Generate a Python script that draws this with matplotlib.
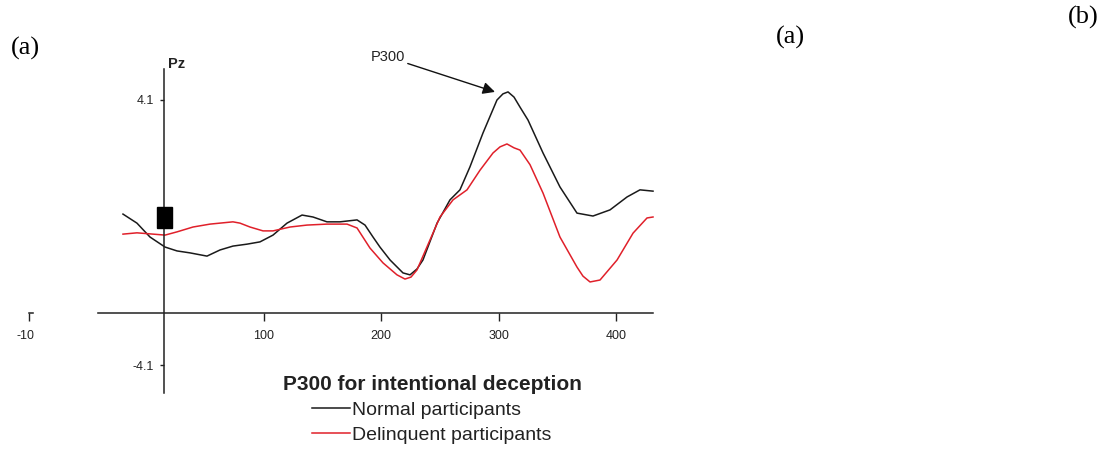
import numpy as np
import matplotlib
matplotlib.use('Agg')
import matplotlib.pyplot as plt
from matplotlib.patches import Rectangle

plt.rcParams['font.family'] = ['Liberation Sans', 'DejaVu Sans']

# Grand average ERP at Pz (ms, microvolts)
t_normal = [-19.6, -7.7, 3.4, 16.2, 26.4, 37.4, 51.9, 63.0, 74.0, 86.0, 97.0,
            108.1, 120.0, 132.8, 142.1, 154.0, 165.1, 179.6, 186.4, 193.2,
            199.1, 207.7, 218.7, 224.7, 230.6, 235.7, 247.7, 258.7, 267.2,
            275.7, 286.8, 298.7, 303.8, 308.1, 313.2, 318.3, 325.1, 337.9,
            352.3, 366.8, 380.4, 394.9, 409.4, 420.4, 431.5]
v_normal = [0.57, 0.29, -0.14, -0.45, -0.57, -0.63, -0.73, -0.54, -0.42, -0.36,
            -0.29, -0.08, 0.29, 0.54, 0.48, 0.33, 0.33, 0.39, 0.23, -0.14,
            -0.45, -0.85, -1.25, -1.31, -1.13, -0.85, 0.29, 1.01, 1.32,
            2.03, 3.08, 4.10, 4.29, 4.35, 4.19, 3.88, 3.48, 2.46,
            1.41, 0.60, 0.51, 0.70, 1.10, 1.32, 1.28]

t_delinq = [-19.6, -7.7, 6.0, 16.2, 26.4, 40.0, 54.5, 74.0, 80.0, 88.5, 99.6,
            108.1, 122.6, 137.0, 154.0, 171.1, 179.6, 190.6, 201.7, 213.6,
            220.4, 225.5, 230.6, 241.7, 250.2, 261.3, 273.2, 284.3, 295.3,
            301.3, 307.2, 313.2, 318.3, 326.8, 337.9, 352.3, 366.8, 371.9,
            377.9, 386.4, 400.9, 414.5, 426.4, 431.5]
v_delinq = [-0.05, -0.01, -0.05, -0.08, 0.02, 0.17, 0.26, 0.33, 0.29, 0.17,
            0.05, 0.05, 0.17, 0.23, 0.26, 0.26, 0.14, -0.48, -0.94, -1.31,
            -1.44, -1.38, -1.16, -0.23, 0.48, 1.01, 1.32, 1.93, 2.46,
            2.65, 2.74, 2.62, 2.55, 2.10, 1.22, -0.14, -1.07, -1.35,
            -1.53, -1.47, -0.85, -0.02, 0.45, 0.48]

xticks = [-100, 100, 200, 300, 400]
yticks = [-4.1, 4.1]

fig = plt.figure(figsize=(11.03, 4.55), dpi=100)
ax = fig.add_axes([0, 0, 1, 1])
ax.patch.set_visible(False)
ax.set_xlim(-124.26, 814.47)
ax.set_ylim(-6.884, 7.194)

l1, = ax.plot(t_normal, v_normal, color='#1a1a1a', lw=1.1,
              solid_joinstyle='round', label='Normal participants')
l2, = ax.plot(t_delinq, v_delinq, color='#e0202a', lw=1.1,
              solid_joinstyle='round', label='Delinquent participants')

# axes crossing like the original software draws them
for s in ['top', 'right']:
    ax.spines[s].set_visible(False)
ax.spines['left'].set_position(('data', 15.3))
ax.spines['left'].set_bounds(-4.97, 5.06)
ax.spines['bottom'].set_position(('data', -2.49))
ax.spines['bottom'].set_bounds(-100, 431.5)
for s in ['left', 'bottom']:
    ax.spines[s].set_linewidth(1.1)
    ax.spines[s].set_color('#222222')

ax.set_xticks(xticks)
ax.set_xticklabels([str(x) for x in xticks])
ax.set_yticks(yticks)
ax.set_yticklabels(['-4.1', '4.1'])
ax.tick_params(axis='x', direction='out', length=6, width=1, pad=6,
               labelsize=9, colors='#222222')
ax.tick_params(axis='y', direction='out', length=3, width=1, pad=4,
               labelsize=9, colors='#222222')

# stimulus onset marker
ax.add_patch(Rectangle((9.4, 0.14), 12.7, 0.65, color='black', zorder=4))

# white block that hides part of the axis in the original
ax.add_patch(Rectangle((-95.3, -3.48), 52.8, 1.55, color='white', zorder=10))

ax.text(19, 5.22, 'Pz', fontsize=10.5, fontweight='bold', color='#222222',
        va='center', ha='left')

ax.annotate('P300', xy=(297.0, 4.35), xytext=(220.4, 5.43),
            ha='right', va='center', fontsize=10.5, color='#222222',
            annotation_clip=False,
            arrowprops=dict(arrowstyle='-|>', color='#111111', lw=1,
                            shrinkA=0, shrinkB=0, mutation_scale=18))

fig.text(283 / 1103, 1 - 384 / 455, 'P300 for intentional deception',
         fontsize=15, fontweight='bold', color='#222222', ha='left', va='center')

ax.legend(handles=[l1, l2], loc='upper left',
          bbox_to_anchor=(312 / 1103, 1 - 401 / 455), bbox_transform=fig.transFigure,
          frameon=False, borderpad=0, borderaxespad=0, fontsize=14,
          handlelength=1.96, handletextpad=0.1, labelspacing=0.4,
          labelcolor='#222222')

serif = ['Liberation Serif', 'DejaVu Serif']
fig.text(25 / 1103, 1 - 48 / 455, '(a)', family=serif, fontsize=19, ha='center', va='center')
fig.text(790 / 1103, 1 - 37 / 455, '(a)', family=serif, fontsize=19, ha='center', va='center')
fig.text(1083 / 1103, 1 - 17 / 455, '(b)', family=serif, fontsize=19, ha='center', va='center')

fig.savefig('out.png', dpi=100)
